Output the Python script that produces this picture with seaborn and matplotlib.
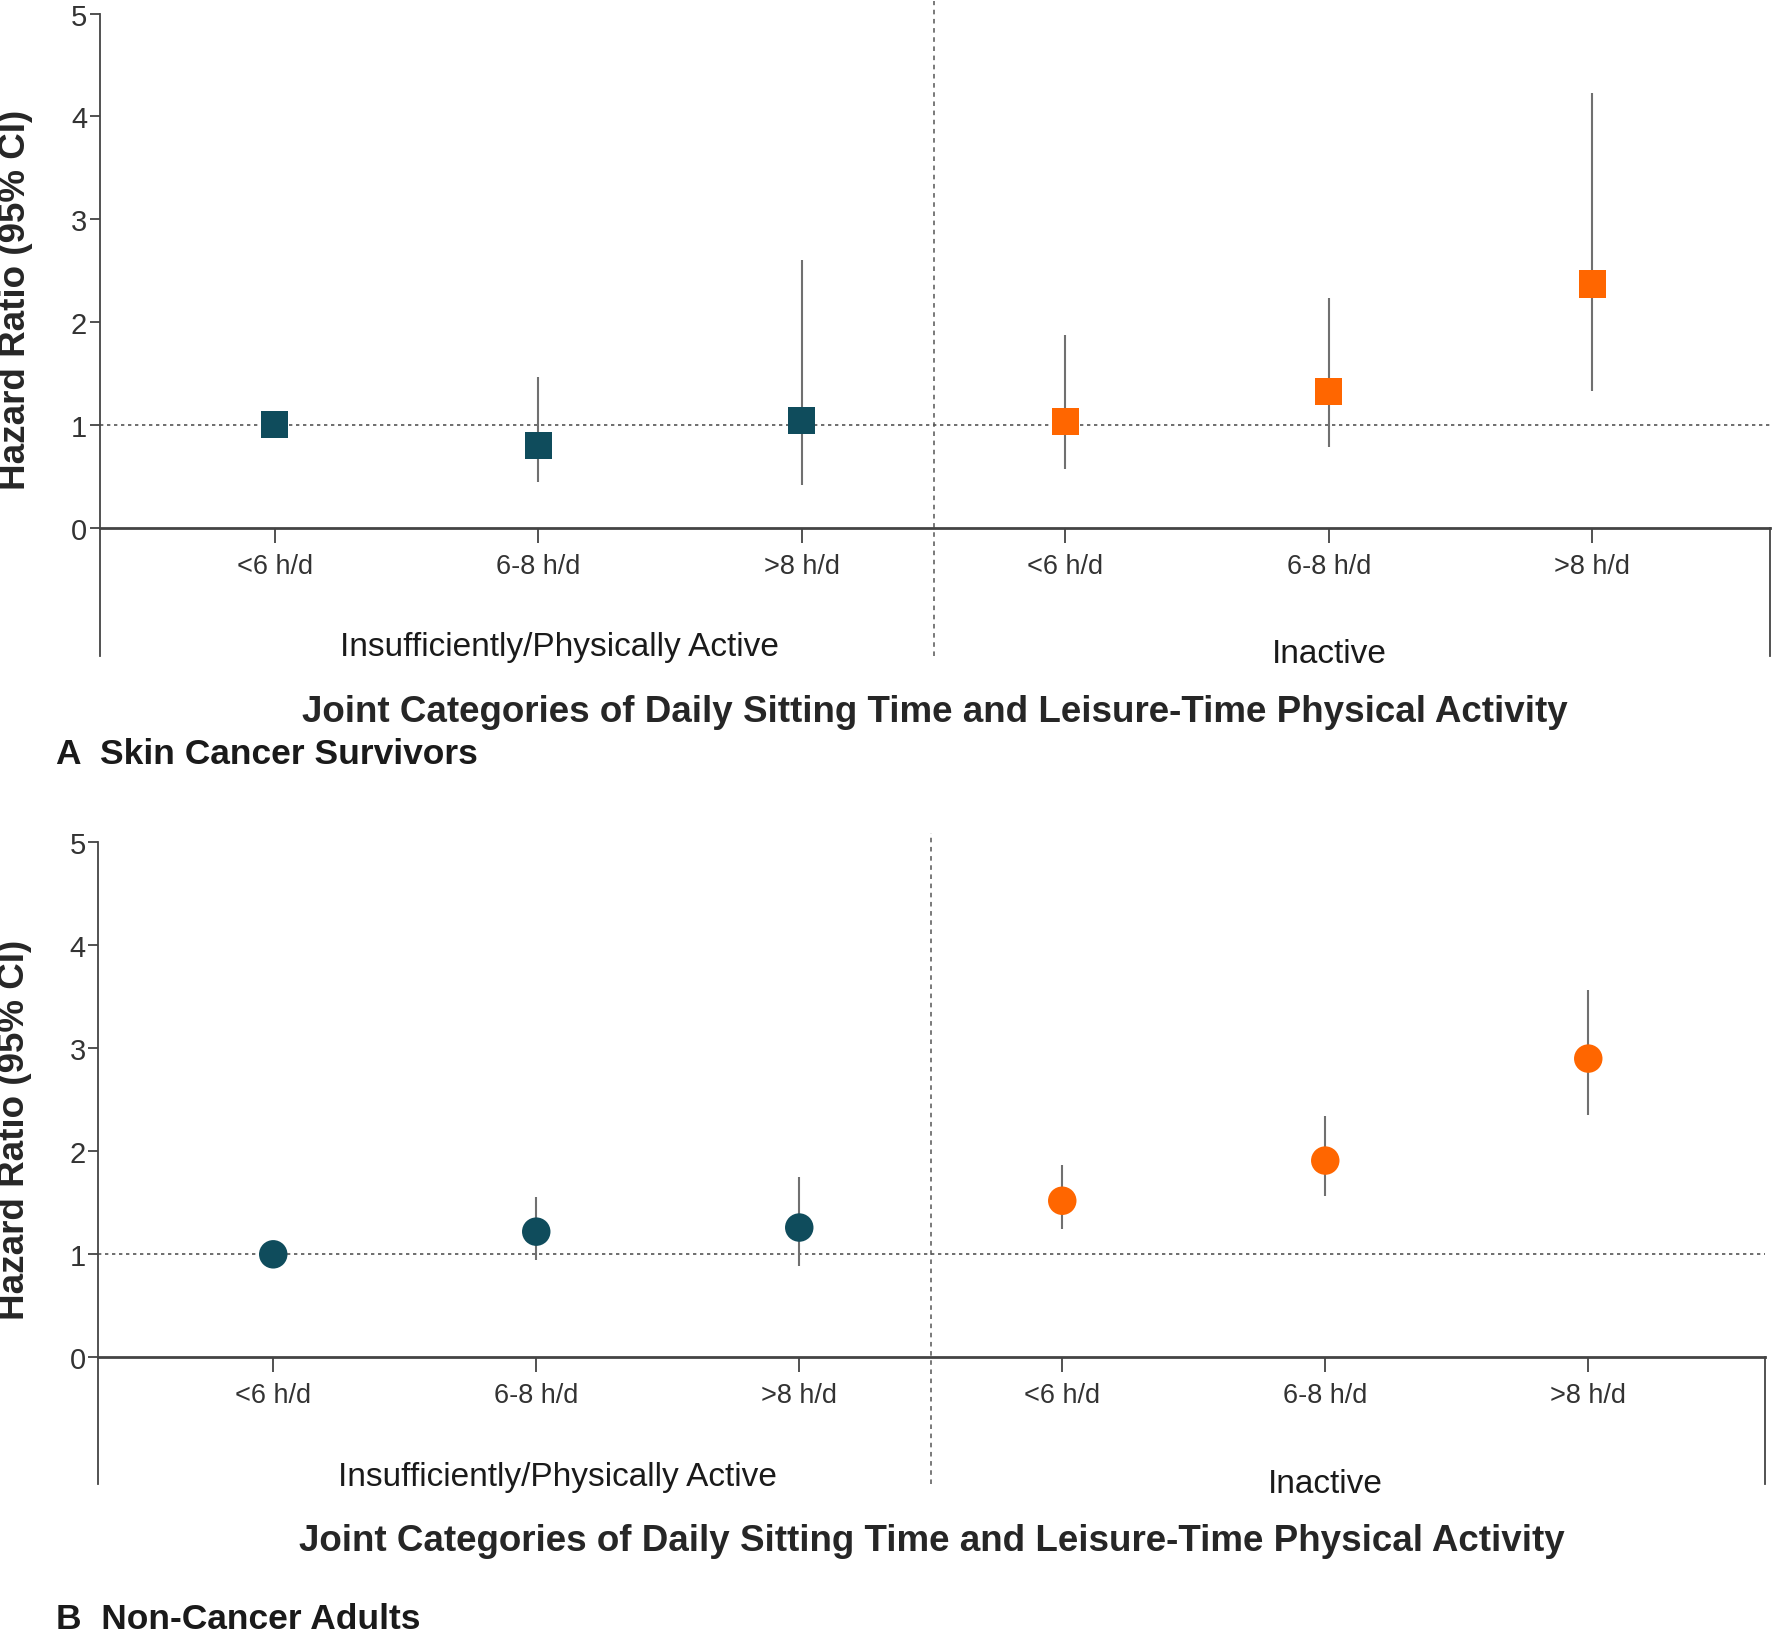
import numpy as np
import pandas as pd
import matplotlib.pyplot as plt
import seaborn as sns

# --- data ---
sitting = ['<6 h/d', '6-8 h/d', '>8 h/d', '<6 h/d', '6-8 h/d', '>8 h/d']
activity = ['Insufficiently/Physically Active'] * 3 + ['Inactive'] * 3
groups = ['Insufficiently/Physically Active', 'Inactive']

hr_skin = [1.00, 0.80, 1.04, 1.03, 1.32, 2.37]
lo_skin = [np.nan, 0.44, 0.41, 0.57, 0.78, 1.33]
hi_skin = [np.nan, 1.47, 2.60, 1.87, 2.23, 4.23]

hr_noncancer = [1.00, 1.22, 1.26, 1.52, 1.91, 2.90]
lo_noncancer = [np.nan, 0.94, 0.89, 1.25, 1.57, 2.35]
hi_noncancer = [np.nan, 1.56, 1.75, 1.87, 2.34, 3.57]

palette = {'Insufficiently/Physically Active': '#0f4c5c', 'Inactive': '#ff6600'}

sns.set_style('ticks')
plt.rcParams['font.family'] = ['Liberation Sans', 'DejaVu Sans']
plt.rcParams['text.color'] = '#1a1a1a'
plt.rcParams['xtick.color'] = '#333333'
plt.rcParams['ytick.color'] = '#333333'

fig = plt.figure(figsize=(17.72, 16.33), dpi=100)


def draw_panel(ax, hr, lo, hi, marker, size, ybottom, ytop, label_y):
    df = pd.DataFrame({'pos': np.arange(len(sitting)), 'sitting': sitting,
                       'activity': activity, 'hr': hr, 'lo': lo, 'hi': hi})
    ci = df.dropna()
    ax.vlines(ci['pos'], ci['lo'], ci['hi'], color='#707070', lw=1.5, zorder=2)
    sns.scatterplot(data=df, x='pos', y='hr', hue='activity', palette=palette,
                    marker=marker, s=size, linewidth=0, legend=False, ax=ax, zorder=3)

    ax.axhline(1, color='#555555', lw=1.2, ls=(0, (2, 2.2)), zorder=1)
    ax.axvline(2.5, color='#555555', lw=1.1, ls=(0, (3, 3)), zorder=1)

    ax.set_xlim(-0.665, 5.673)
    ax.set_ylim(ybottom, ytop)
    ax.set_xticks(df['pos'])
    ax.set_xticklabels(sitting)
    ax.set_yticks(range(6))
    ax.set_yticklabels([str(v) for v in range(6)])

    ax.spines['top'].set_visible(False)
    ax.spines['bottom'].set_position(('data', 0))
    ax.spines['bottom'].set_linewidth(2.0)
    ax.spines['bottom'].set_color('#444444')
    ax.spines['left'].set_bounds(ybottom, 5)
    ax.spines['left'].set_linewidth(1.3)
    ax.spines['left'].set_color('#444444')
    ax.spines['right'].set_bounds(ybottom, 0)
    ax.spines['right'].set_linewidth(1.3)
    ax.spines['right'].set_color('#444444')

    ax.tick_params(axis='x', direction='out', length=11, width=1.2, pad=7, labelsize=19.5)
    ax.tick_params(axis='y', direction='out', length=7, width=1.2, pad=2, labelsize=21)

    ax.text(1.08, -1.16, groups[0], ha='center', va='center', fontsize=24)
    ax.text(4.0, -1.22, groups[1], ha='center', va='center', fontsize=24)

    ax.set_xlabel('Joint Categories of Daily Sitting Time and Leisure-Time Physical Activity',
                  fontsize=26.5, fontweight='bold')
    ax.xaxis.set_label_coords(0.5, label_y)
    ax.xaxis.label.set_va('center')
    ax.set_ylabel('Hazard Ratio (95% CI)', fontsize=26.5, fontweight='bold')
    ax.yaxis.set_label_coords(-0.0505, 0.546)
    ax.yaxis.label.set_va('center')


ax_a = fig.add_axes([0.0562, 0.5976, 0.9425, 0.4010])
draw_panel(ax_a, hr_skin, lo_skin, hi_skin, 's', 380, -1.25, 5.12, -0.084)

ax_b = fig.add_axes([0.0555, 0.0906, 0.9407, 0.3987])
draw_panel(ax_b, hr_noncancer, lo_noncancer, hi_noncancer, 'o', 420, -1.23, 5.09, -0.087)

fig.text(56.5 / 1772, 1 - 755 / 1633, 'A  Skin Cancer Survivors',
         ha='left', va='center', fontsize=25.5, fontweight='bold')
fig.text(56.5 / 1772, 1 - 1620 / 1633, 'B  Non-Cancer Adults',
         ha='left', va='center', fontsize=25.5, fontweight='bold')

fig.savefig('out.png', dpi=100, facecolor='white')
